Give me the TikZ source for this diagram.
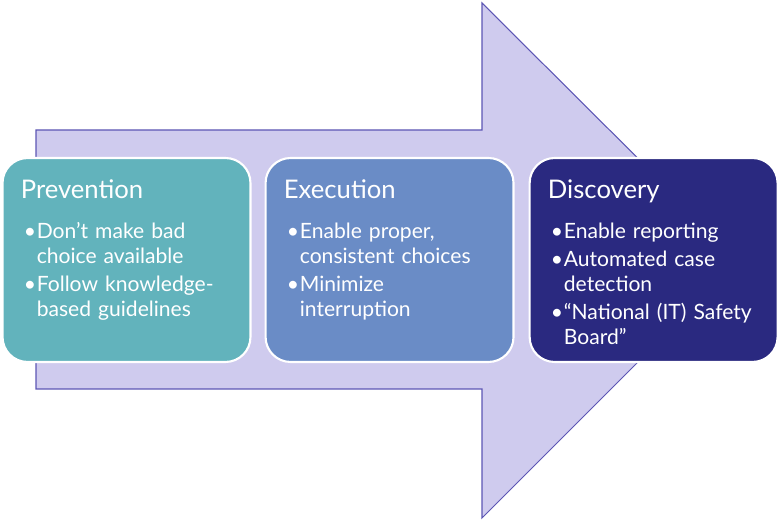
\documentclass[tikz,border=0pt]{standalone}
\usepackage{fontspec}
\setmainfont{Lato}
\usetikzlibrary{positioning}

\definecolor{arrowfill}{HTML}{CFCBEE}
\definecolor{arrowline}{HTML}{5C56B4}
\definecolor{prevfill}{HTML}{62B3BC}
\definecolor{execfill}{HTML}{6A8CC6}
\definecolor{discfill}{HTML}{2A2980}

\newcommand{\stagetitle}[1]{{\fontsize{14.6}{14.2}\selectfont #1}\par\vspace{9pt}}
\newcommand{\stagepoint}[1]{\par\hangindent=0.32cm\hangafter=1\noindent\hspace{0.06cm}\makebox[0.26cm][l]{\textbullet}#1\par\vspace{1.7pt}}
\newcommand{\nl}{\hfil\break}

\tikzset{
	stage/.style={draw=white, line width=1.2pt, rounded corners=0.5cm, minimum width=4.96cm, minimum height=4.08cm, inner sep=0pt},
	stagetext/.style={text=white, text width=4.7cm, align=left, inner sep=0pt, anchor=north west, font=\fontsize{12}{14.2}\selectfont}
}

\begin{document}
\begin{tikzpicture}[x=0.02cm,y=-0.02cm]
		\useasboundingbox (0,0) rectangle (782,526);
		\draw[fill=arrowfill, draw=arrowline, line width=0.6pt] (36,130) -- (482,130) -- (482,3) -- (740,260) -- (482,518) -- (482,389) -- (36,389) -- cycle;
		
		\node[stage, fill=prevfill] (prev) at (126.5,260) {};
		\node[stage, fill=execfill, right=0.26cm of prev] (exec) {};
		\node[stage, fill=discfill, right=0.28cm of exec] (disc) {};
		
		\node[stagetext] (prevtext) at ([xshift=0.38cm, yshift=-0.44cm]prev.north west) {\stagetitle{Prevention}
			\stagepoint{Don’t make bad\nl choice available}
			\stagepoint{Follow knowledge-\nl based guidelines}};
		\node[stagetext] (exectext) at ([xshift=0.38cm, yshift=-0.44cm]exec.north west) {\stagetitle{Execution}
			\stagepoint{Enable proper,\nl consistent choices}
			\stagepoint{Minimize\nl interruption}};
		\node[stagetext] (disctext) at ([xshift=0.38cm, yshift=-0.44cm]disc.north west) {\stagetitle{Discovery}
			\stagepoint{Enable reporting}
			\stagepoint{Automated case\nl detection}
			\stagepoint{“National (IT) Safety\nl Board”}};
	\end{tikzpicture}
\end{document}
